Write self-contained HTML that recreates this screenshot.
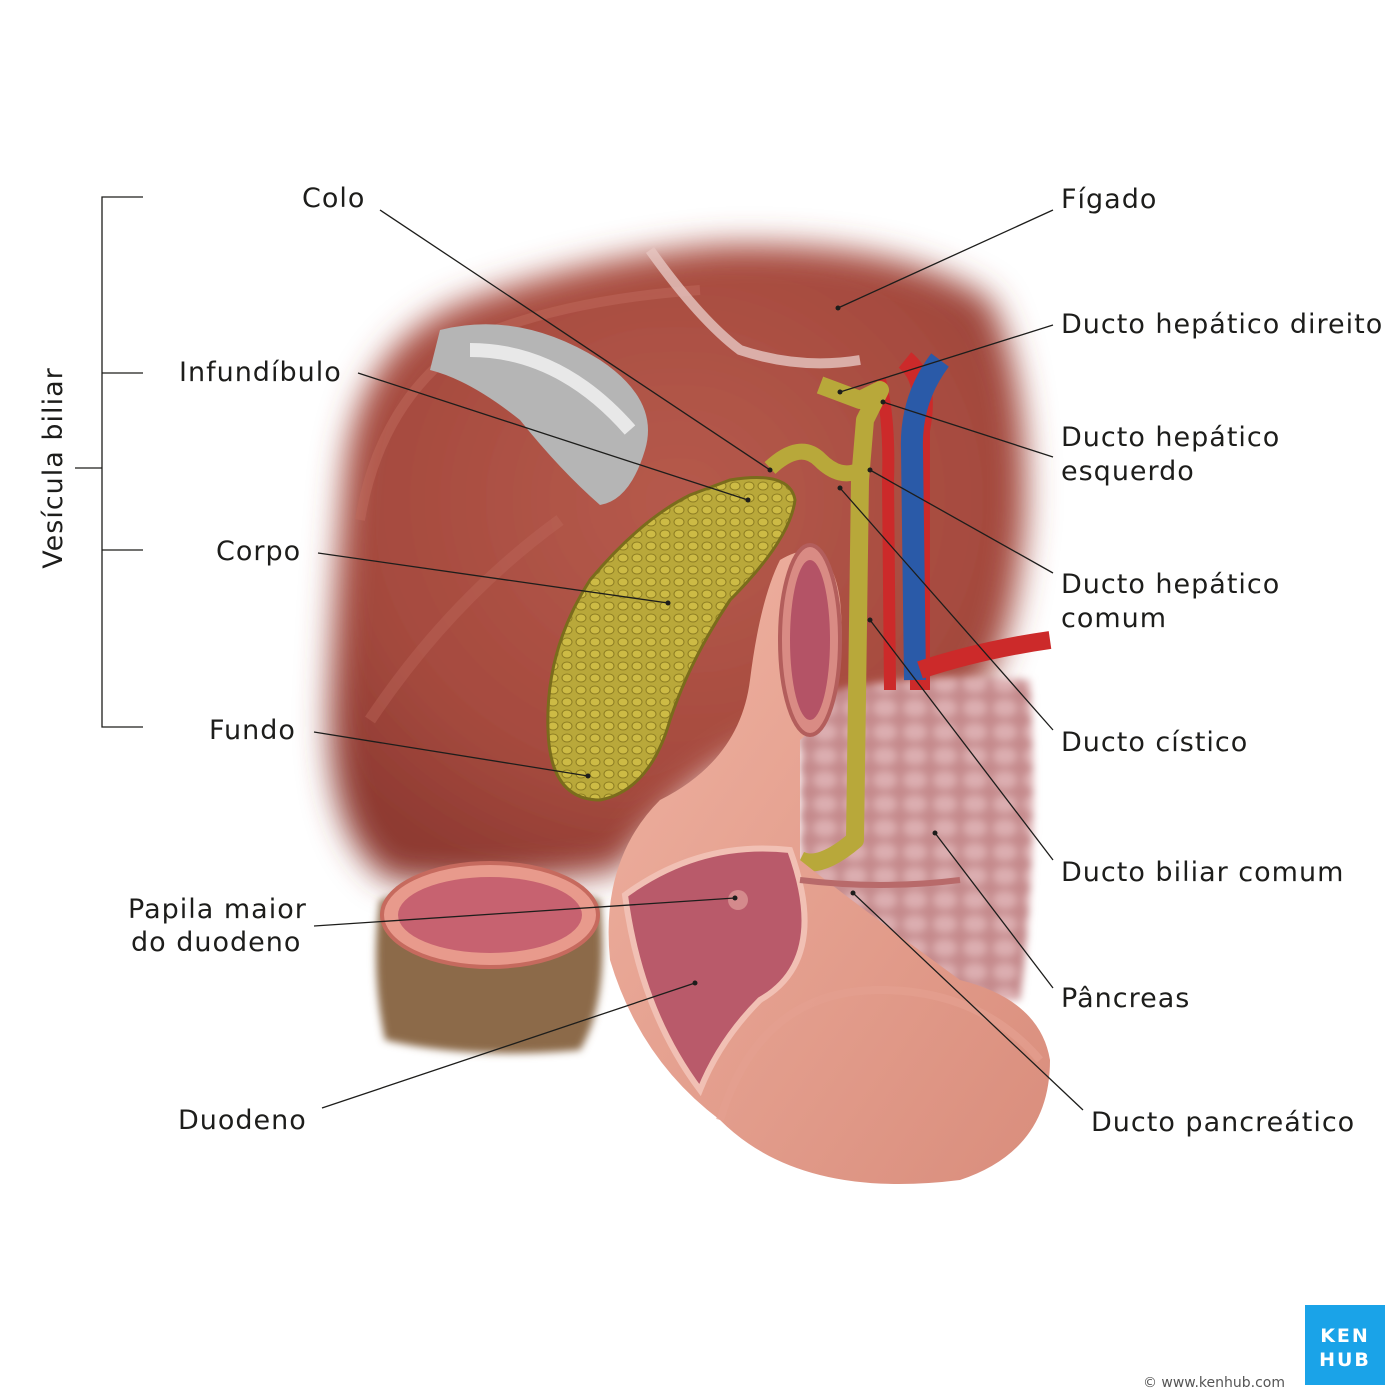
<!DOCTYPE html>
<html><head><meta charset="utf-8">
<style>
html,body{margin:0;padding:0;background:#fff;}
svg{display:block;}
text{font-family:"DejaVu Sans","Liberation Sans",sans-serif;font-size:27px;letter-spacing:1px;fill:#1d1d1b;}
</style></head>
<body>
<svg width="1400" height="1400" viewBox="0 0 1400 1400" xmlns="http://www.w3.org/2000/svg">
<defs>
<filter id="soft" x="-20%" y="-20%" width="140%" height="140%"><feGaussianBlur stdDeviation="16"/></filter>
<filter id="soft2"><feGaussianBlur stdDeviation="4"/></filter>
<radialGradient id="liv" cx="0.5" cy="0.4" r="0.65">
<stop offset="0" stop-color="#b65a4c"/><stop offset="0.7" stop-color="#a54a3e"/><stop offset="1" stop-color="#8e3a32"/></radialGradient>
<linearGradient id="duo" x1="0" y1="0" x2="1" y2="1">
<stop offset="0" stop-color="#f0b3a2"/><stop offset="1" stop-color="#d98d7c"/></linearGradient>
<pattern id="cells" width="14" height="12" patternUnits="userSpaceOnUse">
<rect width="14" height="12" fill="#b9a83a"/><ellipse cx="7" cy="6" rx="5" ry="4" fill="#cdbb45" stroke="#8d7d22" stroke-width="1"/></pattern>
<pattern id="panc" width="30" height="24" patternUnits="userSpaceOnUse">
<rect width="30" height="24" fill="#c58a8c"/><ellipse cx="15" cy="12" rx="12" ry="9" fill="#dcaeb0"/></pattern>
</defs>

<g filter="url(#soft)">
<path d="M345 470 Q360 340 470 300 Q600 255 720 245 Q900 240 990 300 Q1030 380 1025 520 Q1015 640 980 690 L820 720 Q700 760 620 870 Q500 890 390 880 Q325 840 330 700 Q335 580 345 470Z" fill="url(#liv)"/>
</g>
<path d="M360 520 Q380 400 470 340 Q560 300 700 290" stroke="#c06a5c" stroke-width="10" fill="none" opacity="0.5"/>
<path d="M370 720 Q450 600 560 520" stroke="#bf6a5c" stroke-width="12" fill="none" opacity="0.4"/>
<path d="M650 250 Q700 320 740 350 Q800 370 860 360" stroke="#e6c6c0" stroke-width="10" fill="none" opacity="0.8"/>
<path d="M440 330 Q520 310 600 360 Q660 400 645 450 Q630 500 600 505 Q560 470 520 420 Q470 380 430 370Z" fill="#b5b5b5"/>
<path d="M470 350 Q560 350 630 430" stroke="#e8e8e8" stroke-width="14" fill="none"/>

<g filter="url(#soft2)"><path d="M380 900 Q480 870 600 900 Q610 1000 580 1050 Q470 1060 385 1040 Q370 970 380 900Z" fill="#8c6a4a"/></g>
<ellipse cx="490" cy="915" rx="108" ry="52" fill="#e89a8c" stroke="#c66a5e" stroke-width="4"/>
<ellipse cx="490" cy="915" rx="92" ry="38" fill="#c76270"/>

<g filter="url(#soft2)"><path d="M800 700 Q900 670 1030 680 Q1040 850 1020 1000 Q900 1010 800 980Z" fill="url(#panc)"/></g>

<path d="M905 360 Q930 380 920 430 L920 690" stroke="#cc2a2a" stroke-width="20" fill="none"/>
<path d="M940 360 Q910 400 912 450 L915 680" stroke="#2a5aa8" stroke-width="22" fill="none"/>
<path d="M880 380 Q890 420 888 480 L890 690" stroke="#cc2a2a" stroke-width="12" fill="none"/>
<path d="M920 670 Q980 650 1050 640" stroke="#cc2a2a" stroke-width="18" fill="none"/>

<path d="M820 385 L860 400 L880 390 L865 420 L860 480 L855 840 Q820 870 800 860" stroke="#b8a83a" stroke-width="18" fill="none" stroke-linejoin="round"/>
<path d="M770 468 Q800 440 820 460 Q840 480 860 470" stroke="#b8a83a" stroke-width="16" fill="none"/>

<path d="M730 480 Q790 470 795 500 Q790 540 730 600 Q690 660 670 720 Q650 790 600 800 Q550 800 548 730 Q545 650 590 580 Q640 520 690 495Z" fill="url(#cells)" stroke="#7a6c1c" stroke-width="3"/>

<path d="M780 560 Q830 530 840 600 Q850 700 800 740 L800 860 Q850 900 960 980 Q1040 1000 1050 1060 Q1050 1150 960 1180 Q800 1200 720 1120 Q640 1060 610 960 Q600 860 660 800 Q740 760 750 680 Q760 600 780 560Z" fill="url(#duo)"/>
<ellipse cx="810" cy="640" rx="30" ry="95" fill="#d98b84" stroke="#b35e5c" stroke-width="4"/>
<ellipse cx="810" cy="640" rx="20" ry="80" fill="#b45366"/>
<path d="M625 895 Q700 840 790 850 Q830 960 760 1000 Q720 1040 700 1090 Q640 1010 625 895Z" fill="#b95a6a" stroke="#f1c0b4" stroke-width="6"/>
<circle cx="738" cy="900" r="10" fill="#d48a8c"/>
<path d="M720 1120 Q760 990 880 990 Q980 990 1040 1060" stroke="#e4a090" stroke-width="8" fill="none" opacity="0.7"/>
<path d="M800 880 Q880 890 960 880" stroke="#b86a6a" stroke-width="6" fill="none"/>

<g stroke="#1d1d1b" stroke-width="1.3" fill="none">
<line x1="380" y1="210" x2="770" y2="470"/>
<line x1="358" y1="373" x2="748" y2="500"/>
<line x1="318" y1="553" x2="668" y2="603"/>
<line x1="314" y1="732" x2="588" y2="776"/>
<line x1="314" y1="926" x2="735" y2="898"/>
<line x1="322" y1="1108" x2="695" y2="983"/>
<line x1="1053" y1="210" x2="838" y2="308"/>
<line x1="1053" y1="325" x2="840" y2="392"/>
<line x1="1053" y1="457" x2="883" y2="402"/>
<line x1="1053" y1="573" x2="870" y2="470"/>
<line x1="1053" y1="730" x2="840" y2="488"/>
<line x1="1053" y1="860" x2="870" y2="620"/>
<line x1="1053" y1="988" x2="935" y2="833"/>
<line x1="1083" y1="1110" x2="853" y2="893"/>
<polyline points="143,197 102,197 102,727 143,727"/>
<line x1="102" y1="373" x2="143" y2="373"/>
<line x1="102" y1="550" x2="143" y2="550"/>
<line x1="75" y1="468" x2="102" y2="468"/>
</g>
<g fill="#1d1d1b">
<circle cx="770" cy="470" r="2.5"/><circle cx="748" cy="500" r="2.5"/><circle cx="668" cy="603" r="2.5"/>
<circle cx="588" cy="776" r="2.5"/><circle cx="735" cy="898" r="2.5"/><circle cx="695" cy="983" r="2.5"/>
<circle cx="838" cy="308" r="2.5"/><circle cx="840" cy="392" r="2.5"/><circle cx="883" cy="402" r="2.5"/>
<circle cx="870" cy="470" r="2.5"/><circle cx="840" cy="488" r="2.5"/><circle cx="870" cy="620" r="2.5"/>
<circle cx="935" cy="833" r="2.5"/><circle cx="853" cy="893" r="2.5"/>
</g>

<text x="302" y="207">Colo</text>
<text x="179" y="381">Infundíbulo</text>
<text x="216" y="560">Corpo</text>
<text x="209" y="739">Fundo</text>
<text x="128" y="918">Papila maior</text>
<text x="131" y="951">do duodeno</text>
<text x="178" y="1129">Duodeno</text>
<text x="1061" y="208">Fígado</text>
<text x="1061" y="333">Ducto hepático direito</text>
<text x="1061" y="446">Ducto hepático</text>
<text x="1061" y="480">esquerdo</text>
<text x="1061" y="593">Ducto hepático</text>
<text x="1061" y="627">comum</text>
<text x="1061" y="751">Ducto cístico</text>
<text x="1061" y="881">Ducto biliar comum</text>
<text x="1061" y="1007">Pâncreas</text>
<text x="1091" y="1131">Ducto pancreático</text>
<text transform="translate(62,468) rotate(-90)" text-anchor="middle">Vesícula biliar</text>

<rect x="1305" y="1305" width="80" height="80" fill="#1aa3e8"/>
<text x="1345" y="1342" text-anchor="middle" style="fill:#fff;font-size:19px;font-weight:bold;letter-spacing:2px">KEN</text>
<text x="1345" y="1366" text-anchor="middle" style="fill:#fff;font-size:19px;font-weight:bold;letter-spacing:2px">HUB</text>
<text x="1285" y="1387" text-anchor="end" style="font-size:14px;fill:#555;letter-spacing:0">© www.kenhub.com</text>
</svg>
</body></html>
